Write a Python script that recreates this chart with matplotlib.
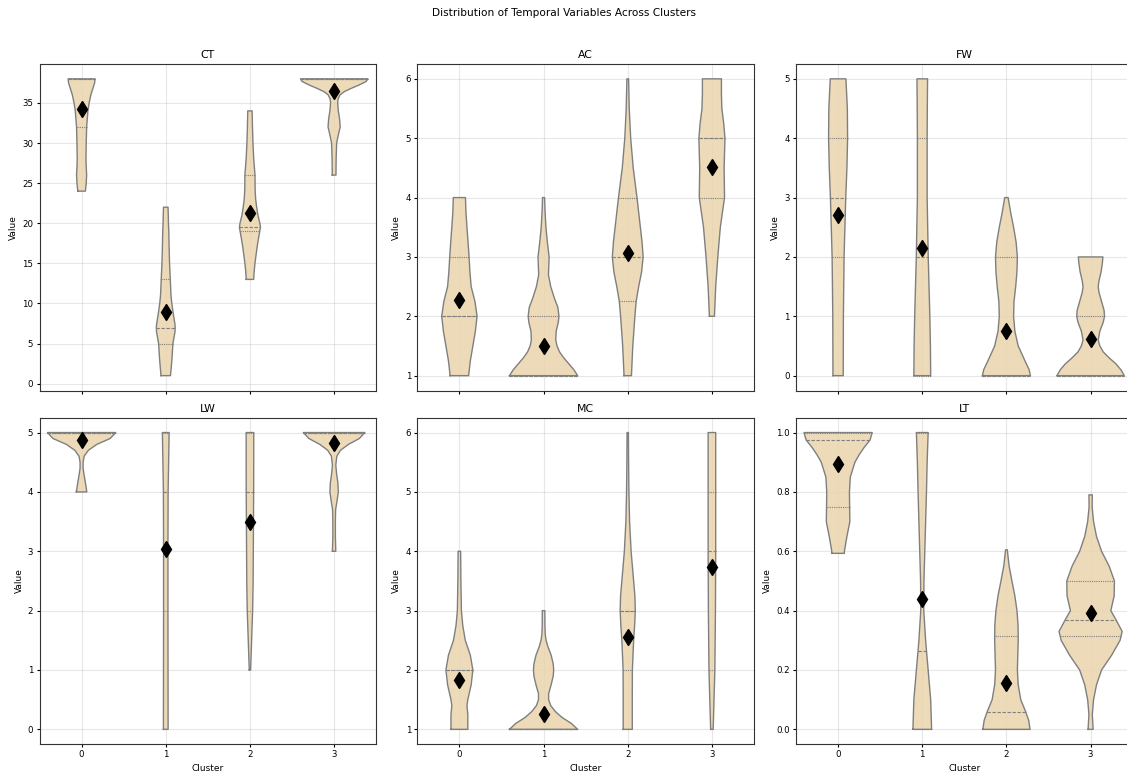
import numpy as np
import matplotlib
matplotlib.use("Agg")
import matplotlib.pyplot as plt

# variables and clusters
variables = ["CT", "AC", "FW", "LW", "MC", "LT"]
clusters = [0, 1, 2, 3]

# violin outlines: (values, half widths) per cluster
CT_shape = [
    ([24, 24.5, 25, 26, 27, 28, 30, 32, 34, 35, 36, 36.5, 37, 37.5, 38],
     [0.045, 0.05, 0.055, 0.06, 0.055, 0.052, 0.055, 0.06, 0.075, 0.09, 0.11, 0.125, 0.14, 0.155, 0.16]),
    ([1, 2, 3, 4, 5, 6, 6.5, 7, 7.5, 8, 9, 10, 11, 13, 15, 17, 19, 20, 21, 22],
     [0.056, 0.065, 0.073, 0.079, 0.085, 0.102, 0.11, 0.112, 0.108, 0.1, 0.085, 0.072, 0.062, 0.054, 0.045, 0.04, 0.036, 0.032, 0.03, 0.027]),
    ([13, 14, 15, 16, 17, 18, 19, 19.5, 20, 21, 22, 23, 24, 26, 28, 30, 32, 34],
     [0.044, 0.05, 0.06, 0.072, 0.085, 0.1, 0.117, 0.125, 0.118, 0.095, 0.08, 0.068, 0.062, 0.06, 0.045, 0.036, 0.03, 0.026]),
    ([26, 28, 30, 31, 32, 33, 34, 35, 35.5, 36, 36.4, 36.8, 37.25, 37.67, 38],
     [0.022, 0.024, 0.03, 0.05, 0.072, 0.065, 0.05, 0.042, 0.048, 0.07, 0.12, 0.2, 0.3, 0.38, 0.4]),
]
AC_shape = [
    ([1, 1.25, 1.5, 1.75, 2, 2.25, 2.5, 2.75, 3, 3.25, 3.5, 3.75, 4],
     [0.11, 0.13, 0.16, 0.19, 0.21, 0.185, 0.14, 0.125, 0.115, 0.103, 0.09, 0.078, 0.072]),
    ([1, 1.1, 1.2, 1.3, 1.4, 1.5, 1.6, 1.75, 1.9, 2, 2.15, 2.3, 2.5, 2.7, 3, 3.25, 3.5, 3.75, 4],
     [0.405, 0.36, 0.3, 0.24, 0.19, 0.16, 0.145, 0.15, 0.175, 0.183, 0.17, 0.13, 0.085, 0.058, 0.066, 0.045, 0.028, 0.018, 0.012]),
    ([1, 1.5, 2, 2.25, 2.5, 2.75, 3, 3.25, 3.5, 4, 4.5, 5, 5.5, 6],
     [0.044, 0.06, 0.085, 0.1, 0.13, 0.165, 0.183, 0.17, 0.15, 0.11, 0.065, 0.035, 0.018, 0.01]),
    ([2, 2.5, 3, 3.5, 4, 4.5, 5, 5.25, 5.5, 5.75, 6],
     [0.03, 0.045, 0.07, 0.1, 0.15, 0.145, 0.155, 0.14, 0.118, 0.113, 0.113]),
]
FW_shape = [
    ([0, 1, 2, 3, 3.5, 4, 4.5, 5],
     [0.061, 0.063, 0.071, 0.091, 0.105, 0.113, 0.11, 0.093]),
    ([0, 0.5, 1, 2, 3, 4, 4.5, 5],
     [0.1, 0.097, 0.09, 0.071, 0.058, 0.058, 0.06, 0.063]),
    ([0, 0.1, 0.25, 0.5, 0.75, 1, 1.25, 1.5, 1.75, 2, 2.25, 2.5, 2.75, 3],
     [0.285, 0.27, 0.22, 0.14, 0.1, 0.085, 0.09, 0.11, 0.125, 0.13, 0.115, 0.085, 0.05, 0.02]),
    ([0, 0.1, 0.2, 0.3, 0.4, 0.5, 0.6, 0.75, 0.9, 1, 1.1, 1.25, 1.4, 1.5, 1.6, 1.75, 1.9, 2],
     [0.4, 0.36, 0.3, 0.22, 0.15, 0.11, 0.09, 0.11, 0.15, 0.165, 0.16, 0.13, 0.1, 0.09, 0.1, 0.125, 0.14, 0.146]),
]
LW_shape = [
    ([4, 4.1, 4.2, 4.3, 4.4, 4.5, 4.6, 4.7, 4.8, 4.9, 5],
     [0.062, 0.052, 0.04, 0.028, 0.018, 0.018, 0.03, 0.08, 0.18, 0.34, 0.405]),
    ([0, 1, 2, 3, 4, 4.5, 5],
     [0.028, 0.027, 0.026, 0.026, 0.028, 0.034, 0.04]),
    ([1, 1.5, 2, 2.5, 3, 4, 4.5, 5],
     [0.008, 0.02, 0.032, 0.038, 0.04, 0.044, 0.045, 0.045]),
    ([3, 3.25, 3.5, 3.7, 3.85, 4, 4.15, 4.3, 4.45, 4.6, 4.7, 4.8, 4.9, 5],
     [0.02, 0.015, 0.015, 0.018, 0.035, 0.05, 0.045, 0.03, 0.02, 0.032, 0.075, 0.17, 0.3, 0.365]),
]
MC_shape = [
    ([1, 1.25, 1.4, 1.5, 1.75, 2, 2.25, 2.5, 2.75, 3, 3.5, 4],
     [0.1, 0.1, 0.09, 0.1, 0.14, 0.16, 0.13, 0.07, 0.04, 0.024, 0.018, 0.015]),
    ([1, 1.1, 1.2, 1.3, 1.4, 1.5, 1.6, 1.75, 1.9, 2, 2.1, 2.25, 2.4, 2.5, 2.6, 2.75, 3],
     [0.405, 0.33, 0.22, 0.14, 0.085, 0.06, 0.06, 0.09, 0.115, 0.12, 0.115, 0.09, 0.05, 0.03, 0.02, 0.016, 0.015]),
    ([1, 1.5, 2, 2.5, 2.75, 3, 3.25, 3.5, 4, 4.5, 5, 5.5, 6],
     [0.054, 0.054, 0.055, 0.07, 0.082, 0.09, 0.085, 0.07, 0.04, 0.022, 0.014, 0.01, 0.008]),
    ([1, 1.5, 2, 3, 4, 5, 6],
     [0.015, 0.025, 0.035, 0.042, 0.045, 0.045, 0.045]),
]
LT_shape = [
    ([0.593, 0.6, 0.65, 0.7, 0.75, 0.8, 0.85, 0.9, 0.925, 0.95, 0.975, 1.0],
     [0.075, 0.075, 0.105, 0.14, 0.137, 0.135, 0.145, 0.2, 0.25, 0.31, 0.38, 0.405]),
    ([0, 0.1, 0.2, 0.265, 0.3, 0.4, 0.5, 0.6, 0.7, 0.8, 0.9, 1.0],
     [0.111, 0.1, 0.07, 0.05, 0.04, 0.018, 0.02, 0.03, 0.04, 0.05, 0.058, 0.07]),
    ([0, 0.03, 0.06, 0.1, 0.15, 0.2, 0.25, 0.3, 0.35, 0.4, 0.45, 0.5, 0.55, 0.605],
     [0.28, 0.265, 0.228, 0.17, 0.14, 0.13, 0.135, 0.14, 0.138, 0.125, 0.1, 0.065, 0.032, 0.01]),
    ([0, 0.05, 0.1, 0.15, 0.2, 0.25, 0.3, 0.33, 0.37, 0.4, 0.45, 0.5, 0.55, 0.6, 0.65, 0.7, 0.75, 0.79],
     [0.03, 0.02, 0.035, 0.07, 0.13, 0.25, 0.35, 0.375, 0.3, 0.24, 0.28, 0.283, 0.22, 0.13, 0.07, 0.035, 0.018, 0.02]),
]

# quartiles (q1, median, q3) and means per cluster
CT_quart = [(32, 38, 38), (5, 7, 13), (19, 19.5, 26), (38, 38, 38)]
AC_quart = [(2, 2, 3), (1, 1, 2), (2.25, 3, 4), (4, 5, 5)]
FW_quart = [(2, 3, 4), (0, 2, 4), (0, 0, 2), (0, 0, 1)]
LW_quart = [(5, 5, 5), (2, 4, 5), (2, 4, 5), (5, 5, 5)]
MC_quart = [(1, 2, 2), (1, 1, 1), (2, 3, 3), (2, 4, 5)]
LT_quart = [(0.75, 0.975, 1.0), (0, 0.265, 1.0), (0, 0.06, 0.315), (0.315, 0.37, 0.5)]

CT_mean = [34.3, 8.95, 21.3, 36.5]
AC_mean = [2.28, 1.5, 3.07, 4.52]
FW_mean = [2.7, 2.15, 0.75, 0.62]
LW_mean = [4.88, 3.04, 3.5, 4.83]
MC_mean = [1.83, 1.26, 2.56, 3.73]
LT_mean = [0.893, 0.44, 0.157, 0.392]

shapes = [CT_shape, AC_shape, FW_shape, LW_shape, MC_shape, LT_shape]
quarts = [CT_quart, AC_quart, FW_quart, LW_quart, MC_quart, LT_quart]
means = [CT_mean, AC_mean, FW_mean, LW_mean, MC_mean, LT_mean]

fill_col = "#E9D4AC"
edge_col = "#7f7f7f"

fig = plt.figure(figsize=(11.27, 7.75), dpi=100)

W, H = 1127.0, 775.0
lefts = [39.5, 417.3, 796.0]
tops = [64.0, 417.7]
aw, ah = 336.7, 326.5

for k, var in enumerate(variables):
    r, c = divmod(k, 3)
    ax = fig.add_axes([lefts[c] / W, 1 - (tops[r] + ah) / H, aw / W, ah / H])
    ax.set_axisbelow(True)
    ax.grid(True, color="#b0b0b0", alpha=0.3, linewidth=0.8)

    for i, cl in enumerate(clusters):
        ys = np.array(shapes[k][i][0], dtype=float)
        ws = np.array(shapes[k][i][1], dtype=float)
        ax.fill_betweenx(ys, cl - ws, cl + ws, facecolor=fill_col, edgecolor="none", alpha=0.85, zorder=2)
        # outline
        xs = np.concatenate([cl - ws, (cl + ws)[::-1], [cl - ws[0]]])
        yy = np.concatenate([ys, ys[::-1], [ys[0]]])
        ax.plot(xs, yy, color=edge_col, linewidth=1.0, zorder=3)
        # quartile lines
        q1, med, q3 = quarts[k][i]
        for q, ls in [(q1, (0, (1, 1))), (med, (0, (3, 1.5))), (q3, (0, (1, 1)))]:
            wq = np.interp(q, ys, ws)
            ax.plot([cl - wq, cl + wq], [q, q], color=edge_col, linestyle=ls, linewidth=0.8, zorder=3)
        ax.plot(cl, means[k][i], marker="d", color="black", markersize=8, zorder=4)

    ax.set_xlim(-0.5, 3.5)
    ax.set_xticks(clusters)
    ax.set_title(var, fontsize=7.8, pad=4)
    ax.set_ylabel("Value", fontsize=6.5, labelpad=3)
    ax.tick_params(labelsize=6.2, length=2.5, pad=2)
    for s in ax.spines.values():
        s.set_color("#333333")
    if r == 0:
        ax.set_xticklabels([])
    else:
        ax.set_xticklabels([str(x) for x in clusters])
        ax.set_xlabel("Cluster", fontsize=6.5, labelpad=3)

fig.suptitle("Distribution of Temporal Variables Across Clusters", fontsize=7.6, y=0.99)

fig.savefig("out.png", dpi=100)
